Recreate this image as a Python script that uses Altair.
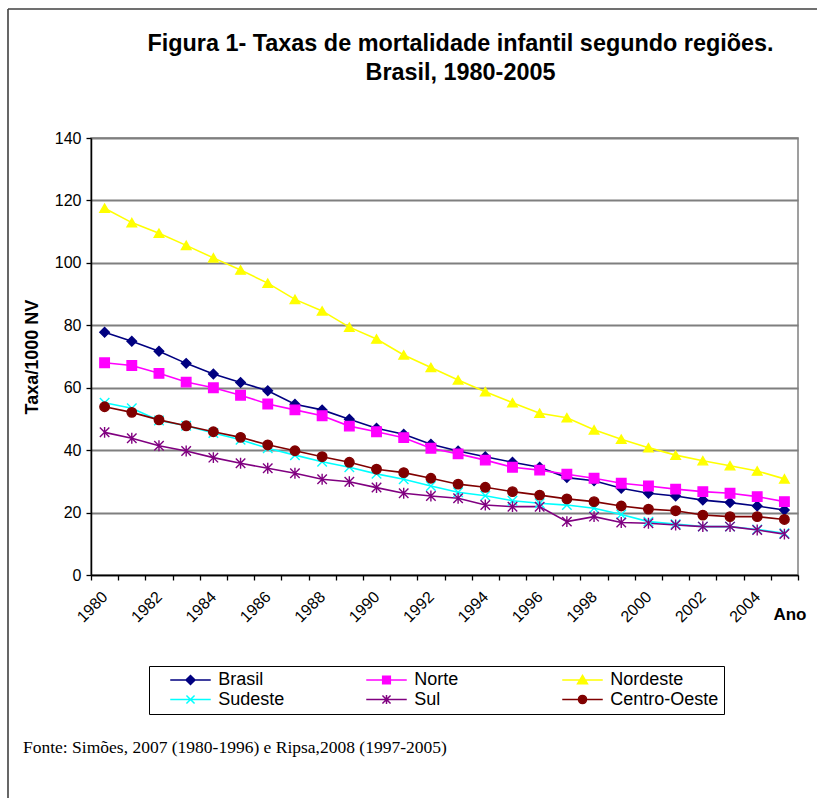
import altair as alt
import pandas as pd

# Taxas de mortalidade infantil (por 1000 nascidos vivos), 1980-2005
anos = [str(a) for a in range(1980, 2006)]

brasil = [77.8, 74.9, 71.7, 67.8, 64.4, 61.7, 59.0, 54.7, 52.9, 49.9, 47.0, 45.1, 41.9,
          39.7, 37.9, 36.1, 34.5, 31.2, 30.2, 27.8, 26.2, 25.3, 24.0, 23.2, 22.1, 20.8]
norte = [68.0, 67.1, 64.6, 61.8, 60.0, 57.6, 54.8, 52.9, 51.0, 47.7, 45.9, 44.0, 40.6,
         38.8, 36.8, 34.5, 33.6, 32.3, 31.0, 29.4, 28.5, 27.5, 26.7, 26.2, 25.1, 23.5]
nordeste = [117.5, 112.9, 109.5, 105.6, 101.6, 97.7, 93.5, 88.3, 84.6, 79.4, 75.6, 70.5, 66.5,
            62.5, 58.7, 55.2, 51.8, 50.4, 46.5, 43.5, 40.8, 38.4, 36.6, 35.0, 33.3, 30.8]
sudeste = [55.2, 53.4, 49.5, 47.8, 45.5, 43.3, 40.6, 38.4, 36.3, 34.5, 32.4, 30.7, 28.5,
           26.5, 25.4, 23.8, 23.0, 22.4, 21.4, 19.4, 17.1, 16.3, 15.5, 15.5, 14.6, 13.4]
sul = [45.7, 43.8, 41.4, 39.7, 37.6, 35.8, 34.2, 32.6, 30.7, 29.9, 28.0, 26.2, 25.3,
       24.6, 22.4, 21.9, 21.9, 17.1, 18.7, 16.8, 16.6, 16.0, 15.5, 15.5, 14.4, 13.1]
centro_oeste = [53.9, 52.1, 49.7, 47.8, 45.9, 44.1, 41.7, 39.8, 37.9, 36.1, 33.9, 32.8, 31.0,
                29.1, 28.1, 26.7, 25.6, 24.4, 23.5, 22.1, 21.1, 20.6, 19.2, 18.7, 18.7, 17.8]

regioes = ["Brasil", "Norte", "Nordeste", "Sudeste", "Sul", "Centro-Oeste"]
series = [brasil, norte, nordeste, sudeste, sul, centro_oeste]
cores = ["#000080", "#FF00FF", "#FFFF00", "#00FFFF", "#800080", "#800000"]

# marker shapes on the plot
X_PATH = "M-1,-1L1,1M-1,1L1,-1"
AST_PATH = "M-1,-1L1,1M-1,1L1,-1M0,-1.15L0,1.15"
formas = ["diamond", "square", "triangle-up", X_PATH, AST_PATH, "circle"]

# legend symbols: a short line segment through the marker
SEG = "M-4.5,0L4.5,0"
formas_legenda = [
    SEG + "M0,-1L1,0L0,1L-1,0Z",
    SEG + "M-0.85,-0.85L0.85,-0.85L0.85,0.85L-0.85,0.85Z",
    SEG + "M0,-1L1.1,0.85L-1.1,0.85Z",
    SEG + "M-0.9,-0.9L0.9,0.9M-0.9,0.9L0.9,-0.9",
    SEG + "M-0.9,-0.9L0.9,0.9M-0.9,0.9L0.9,-0.9M0,-1L0,1",
    SEG + "M-0.9,0A0.9,0.9 0 1,0 0.9,0A0.9,0.9 0 1,0 -0.9,0Z",
]

linhas_df = []
for reg, vals in zip(regioes, series):
    for ano, v in zip(anos, vals):
        linhas_df.append({"Ano": ano, "Regiao": reg, "Taxa": v})
df = pd.DataFrame(linhas_df)

titulo = ["Figura 1- Taxas de mortalidade infantil segundo regiões.", "Brasil, 1980-2005"]
fonte = "Fonte: Simões, 2007 (1980-1996) e Ripsa,2008 (1997-2005)"

FONT = "Liberation Sans"
W, H = 707, 437

cor_scale = alt.Scale(domain=regioes, range=cores)

x_enc = alt.X(
    "Ano:O",
    sort=anos,
    bandPosition=0.5,
    scale=alt.Scale(type="band", paddingInner=0, paddingOuter=0),
    axis=alt.Axis(
        title="Ano",
        titleX=715, titleY=39, titleAlign="right", titleBaseline="middle", titleAngle=0,
        titleFontSize=17, titleFontWeight="bold",
        tickBand="extent",
        labelExpr="toNumber(datum.value) % 2 == 0 ? datum.value : ''",
        labelAngle=315, labelAlign="right", labelBaseline="middle",
        labelPadding=14, labelOverlap=False, grid=False,
    ),
)
y_enc = alt.Y(
    "Taxa:Q",
    scale=alt.Scale(domain=[0, 140], nice=False, zero=True),
    axis=alt.Axis(
        title="Taxa/1000 NV", values=list(range(0, 141, 20)),
        titleFontSize=18, titleFontWeight="bold",
        titleX=-59, titleY=H / 2, titleAngle=270, titleAlign="center", titleBaseline="middle",
        grid=True, gridColor="#7f7f7f", gridWidth=2, labelPadding=5,
    ),
)

base = alt.Chart(df)

linhas = base.mark_line(strokeWidth=1.6).encode(
    x=x_enc, y=y_enc,
    stroke=alt.Stroke("Regiao:N", scale=cor_scale, legend=None),
)

pontos = base.mark_point(filled=True, size=90, strokeWidth=1.4, opacity=1).encode(
    x=x_enc, y=y_enc,
    fill=alt.Fill("Regiao:N", scale=cor_scale, legend=None),
    stroke=alt.Stroke("Regiao:N", scale=cor_scale, legend=None),
    shape=alt.Shape("Regiao:N", scale=alt.Scale(domain=regioes, range=formas), legend=None),
)

leg = alt.Legend(
    title=None, orient="none", legendX=58, legendY=528, columns=3, direction="horizontal",
    gridAlign="all", strokeColor="black", padding=5, columnPadding=23, rowPadding=1.5,
    labelFont=FONT, labelFontSize=18, labelColor="black", labelLimit=300,
    symbolSize=81, symbolStrokeWidth=1.5, symbolOffset=27.5, labelOffset=18.75,
    symbolOpacity=1,
)
legenda = base.transform_filter("false").mark_point(filled=True, size=81, strokeWidth=1.5, opacity=1).encode(
    x=x_enc, y=y_enc,
    fill=alt.Fill("Regiao:N", scale=cor_scale, legend=leg),
    stroke=alt.Stroke("Regiao:N", scale=cor_scale, legend=leg),
    shape=alt.Shape("Regiao:N", scale=alt.Scale(domain=regioes, range=formas_legenda), legend=leg),
)

anot = alt.Chart(pd.DataFrame({"k": [0]}))
texto_fonte = anot.mark_text(
    align="left", baseline="middle", font="Liberation Serif", fontSize=17.5, color="black"
).encode(x=alt.value(-68), y=alt.value(610), text=alt.value(fonte))

borda_esq = anot.mark_rule(color="#404040", strokeWidth=1.6).encode(
    x=alt.value(-83), y=alt.value(-129), y2=alt.value(660)
)
borda_top = anot.mark_rule(color="#404040", strokeWidth=1.6).encode(
    x=alt.value(-83), x2=alt.value(726), y=alt.value(-129)
)

chart = alt.layer(linhas, pontos, legenda, texto_fonte, borda_esq, borda_top).resolve_scale(
    fill="independent", stroke="independent", shape="independent"
).properties(
    width=W, height=H,
    title=alt.TitleParams(
        text=titulo, font=FONT, fontSize=23.4, fontWeight="bold", color="black",
        anchor="middle", dx=16, offset=-77, lineHeight=29,
    ),
    autosize=alt.AutoSizeParams(type="none"),
    padding={"left": 91, "top": 138, "right": 19, "bottom": 223},
    background="white",
).configure_view(
    stroke="#808080", strokeWidth=1.5
).configure_axis(
    labelFont=FONT, labelFontSize=16, labelColor="black",
    titleFont=FONT, titleColor="black",
    domainColor="black", domainWidth=1.5, tickColor="black", tickWidth=1.3, tickSize=5,
)

chart.save("out.html", embed_options={"renderer": "svg", "actions": False})
